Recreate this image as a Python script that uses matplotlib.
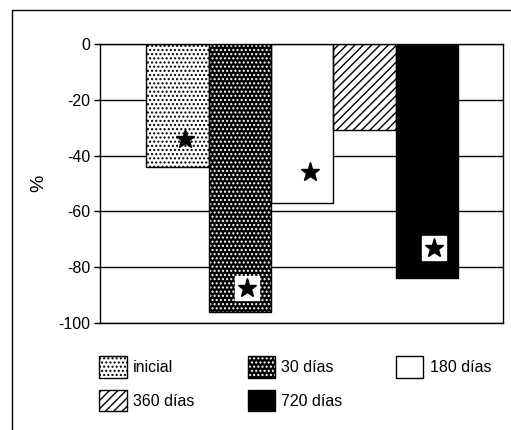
import matplotlib.pyplot as plt
from matplotlib.patches import Patch, Rectangle
import numpy as np

plt.rcParams['font.family'] = ['Liberation Sans', 'DejaVu Sans']
plt.rcParams['axes.unicode_minus'] = False
plt.rcParams['hatch.linewidth'] = 1.0

# datos
grupos = ['inicial', '30 días', '180 días', '360 días', '720 días']
valores = [-44, -96, -57, -31, -84]
# asteriscos de significancia (None = sin asterisco), y si llevan caja blanca
estrella_y = [-34, -87.5, -46, None, -73]
estrella_caja = [False, True, False, False, True]

colores = ['white', 'black', 'white', 'white', 'black']
tramas = ['....', '....', None, '////', None]
color_trama = ['black', 'white', 'black', 'black', 'black']

fig = plt.figure(figsize=(5.11, 4.30), dpi=100)
ax = fig.add_axes([100/511, 1-323/430, 403/511, 279/430])

x = np.arange(len(grupos))
handles = []
for i in range(len(grupos)):
    ax.bar(x[i], valores[i], width=1.0, color=colores[i], hatch=tramas[i],
           edgecolor=color_trama[i], linewidth=0, zorder=2)
    ax.bar(x[i], valores[i], width=1.0, fill=False, edgecolor='black',
           linewidth=1.0, zorder=3)
    relleno = Patch(facecolor=colores[i], hatch=tramas[i], edgecolor=color_trama[i],
                    linewidth=0)
    borde = Patch(fill=False, edgecolor='black', linewidth=1.0)
    handles.append((relleno, borde))

# estrellas
for i in range(len(grupos)):
    if estrella_y[i] is None:
        continue
    if estrella_caja[i]:
        ax.plot(x[i] + 0.12, estrella_y[i], marker='s', markersize=17, color='white',
                zorder=4)
    ax.plot(x[i] + 0.12, estrella_y[i], marker='*', markersize=14, color='black', zorder=5)

ax.set_xlim(-0.5 - 0.74, 4.5 + 0.72)
ax.set_ylim(-100, 0)
ax.set_yticks([0, -20, -40, -60, -80, -100])
ax.set_xticks([])
ax.yaxis.grid(True, color='black', linewidth=1.0, zorder=0)
ax.set_axisbelow(True)
for s in ax.spines.values():
    s.set_linewidth(1.0)
ax.tick_params(axis='y', length=4, width=1.0, labelsize=11.5, pad=3)
ax.set_ylabel('%', fontsize=14, labelpad=8)

# leyenda (orden por filas)
orden = [0, 3, 1, 4, 2]
leg = fig.legend([handles[k] for k in orden], [grupos[k] for k in orden],
                 loc='upper left', bbox_to_anchor=(93/511, 1-350/430), ncol=3,
                 frameon=False, fontsize=11.5, handlelength=1.7, handleheight=1.7,
                 handletextpad=0.4, columnspacing=3.35, labelspacing=0.75,
                 borderaxespad=0)

# marco exterior
fig.patches.append(Rectangle((12/511, -0.1), 1.2, 1 - 10/430 + 0.1, fill=False,
                             edgecolor='black', linewidth=1.0, transform=fig.transFigure))

fig.savefig('out.png', dpi=100)
